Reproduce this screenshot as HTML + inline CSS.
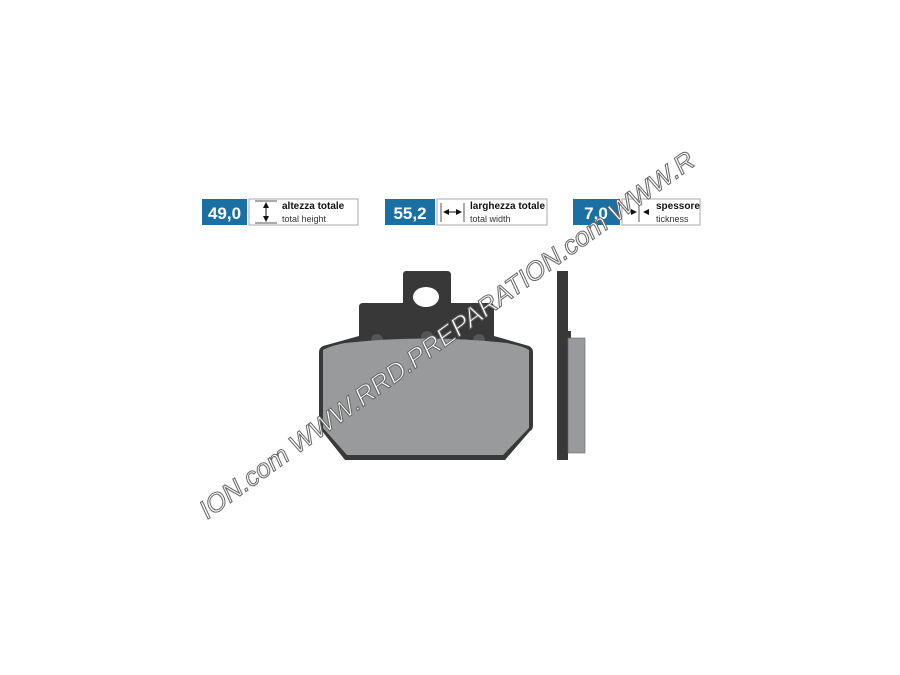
<!DOCTYPE html>
<html><head><style>
html,body{margin:0;padding:0;background:#fff;}
svg{display:block;}
</style></head><body>
<svg width="900" height="675" viewBox="0 0 900 675" xmlns="http://www.w3.org/2000/svg">
<rect width="900" height="675" fill="#fff"/>
<g font-family="Liberation Sans, sans-serif">
  <rect x="202" y="199" width="45" height="26" fill="#1a6fa3"/>
  <text x="224.5" y="219" font-size="17" font-weight="bold" fill="#fff" text-anchor="middle">49,0</text>
  <rect x="249" y="199" width="109" height="26" fill="#fff" stroke="#aaa" stroke-width="1"/>
  <line x1="255" y1="201" x2="277" y2="201" stroke="#555"/>
  <line x1="255" y1="223" x2="277" y2="223" stroke="#555"/>
  <polygon points="266,202 263,208 269,208" fill="#111"/>
  <polygon points="266,222 263,216 269,216" fill="#111"/>
  <line x1="266" y1="207" x2="266" y2="217" stroke="#111"/>
  <text x="282" y="209" font-size="10" font-weight="bold" fill="#111">altezza totale</text>
  <text x="282" y="222" font-size="9" fill="#333">total height</text>

  <rect x="385" y="199" width="50" height="26" fill="#1a6fa3"/>
  <text x="410" y="219" font-size="17" font-weight="bold" fill="#fff" text-anchor="middle">55,2</text>
  <rect x="437" y="199" width="110" height="26" fill="#fff" stroke="#aaa"/>
  <line x1="441" y1="203" x2="441" y2="222" stroke="#555"/>
  <line x1="464" y1="203" x2="464" y2="222" stroke="#555"/>
  <polygon points="443,212 449,209 449,215" fill="#111"/>
  <polygon points="462,212 456,209 456,215" fill="#111"/>
  <line x1="448" y1="212" x2="457" y2="212" stroke="#111"/>
  <text x="470" y="209" font-size="10" font-weight="bold" fill="#111">larghezza totale</text>
  <text x="470" y="222" font-size="9" fill="#333">total width</text>

  <rect x="573" y="199" width="47" height="26" fill="#1a6fa3"/>
  <text x="596" y="219" font-size="17" font-weight="bold" fill="#fff" text-anchor="middle">7,0</text>
  <rect x="622" y="199" width="78" height="26" fill="#fff" stroke="#aaa"/>
  <line x1="639" y1="203" x2="639" y2="222" stroke="#555"/>
  <polygon points="637,212 631,209 631,215" fill="#111"/>
  <polygon points="643,212 649,209 649,215" fill="#111"/>
  <text x="656" y="209" font-size="10" font-weight="bold" fill="#111">spessore</text>
  <text x="656" y="222" font-size="9" fill="#333">tickness</text>
</g>
<path d="M406,271 H447 Q451,271 451,275 V303 H490 Q494,303 494,307 V336 L529,346 Q533,348 533,352 V425 Q533,430 530,431 L505,460 H345 L322,431 Q319,429 319,425 V352 Q319,348 323,346 L359,336 V307 Q359,303 363,303 H403 V275 Q403,271 406,271 Z" fill="#383838"/>
<ellipse cx="426" cy="297" rx="13" ry="10" fill="#fff"/>
<circle cx="377" cy="340" r="6" fill="#555"/>
<circle cx="427" cy="337" r="6" fill="#555"/>
<circle cx="479" cy="340" r="6" fill="#555"/>
<path d="M323,350 Q330,346 345,343 Q426,334 507,343 Q523,346 529,350 V428 L503,455 H347 L323,428 Z" fill="#999a9c"/>
<rect x="557" y="271" width="11" height="189" fill="#383838"/>
<rect x="568" y="331" width="3" height="8" fill="#383838"/>
<rect x="568" y="338" width="17" height="115" fill="#999a9c" stroke="#666" stroke-width="0.6"/>
<text x="0" y="0" transform="translate(452,342) rotate(-36)" text-anchor="middle" font-family="Liberation Sans, sans-serif" font-style="italic" font-size="26" fill="#fff" stroke="#666" stroke-width="1" textLength="605" lengthAdjust="spacingAndGlyphs">ION.com   WWW.RRD.PREPARATION.com   WWW.R</text>
</svg>
</body></html>
